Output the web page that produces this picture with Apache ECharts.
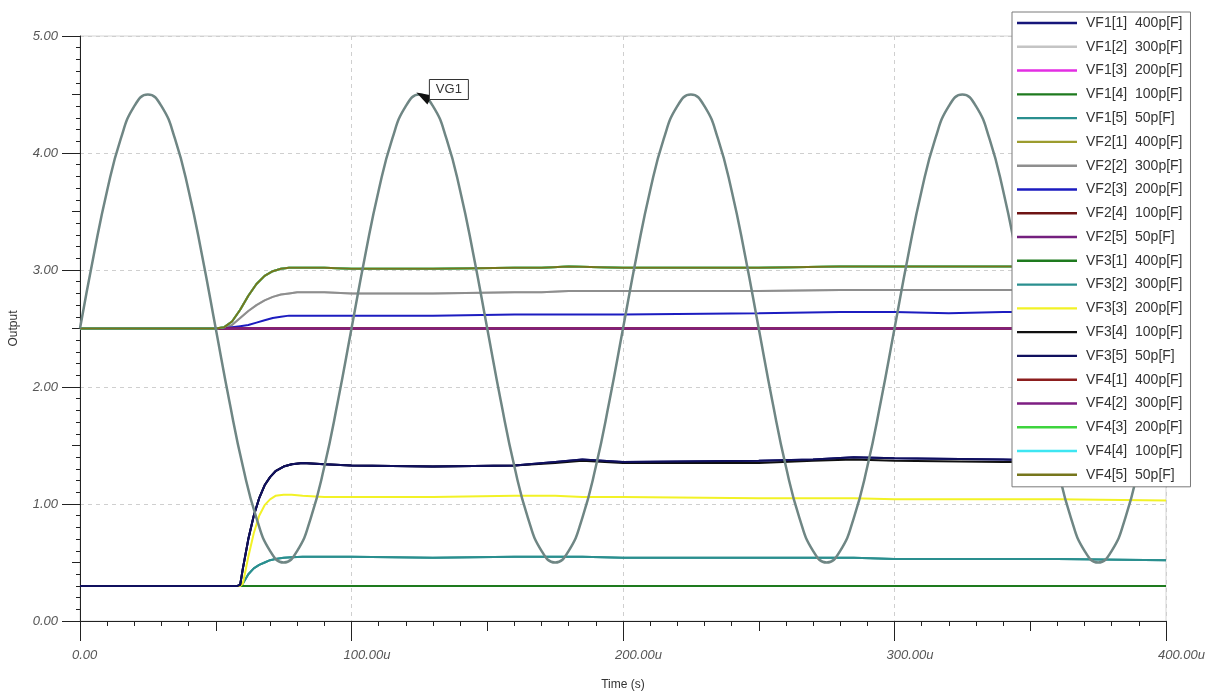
<!DOCTYPE html>
<html>
<head>
<meta charset="utf-8">
<script src="https://cdn.jsdelivr.net/npm/echarts@6/dist/echarts.min.js"></script>
<style>
html,body{margin:0;padding:0;background:#fff;}
#chart{width:1214px;height:696px;}
</style>
</head>
<body>
<div id="chart"></div>
<script>
// ---- Data (time in microseconds, values in volts) ----
const xTickLabels = ['0.00', '100.00u', '200.00u', '300.00u', '400.00u'];
const yTickLabels = ['0.00', '1.00', '2.00', '3.00', '4.00', '5.00'];

// VG1 sine source
const sineT = [0,5,10,15,20,25,30,35,40,45,50,55,60,65,70,75,80,85,90,95,
  100,105,110,115,120,125,130,135,140,145,150,155,160,165,170,175,180,185,190,195,
  200,205,210,215,220,225,230,235,240,245,250,255,260,265,270,275,280,285,290,295,
  300,305,310,315,320,325,330,335,340,345,350,355,360,365,370,375,380,385,390,395,400];
const sineV = [2.5,3.12,3.68,4.12,4.40,4.50,4.40,4.12,3.68,3.12,2.5,1.88,1.32,0.88,0.60,0.50,0.60,0.88,1.32,1.88,
  2.5,3.12,3.68,4.12,4.40,4.50,4.40,4.12,3.68,3.12,2.5,1.88,1.32,0.88,0.60,0.50,0.60,0.88,1.32,1.88,
  2.5,3.12,3.68,4.12,4.40,4.50,4.40,4.12,3.68,3.12,2.5,1.88,1.32,0.88,0.60,0.50,0.60,0.88,1.32,1.88,
  2.5,3.12,3.68,4.12,4.40,4.50,4.40,4.12,3.68,3.12,2.5,1.88,1.32,0.88,0.60,0.50,0.60,0.88,1.32,1.88,2.5];

// Upper group (start at 2.5)
const upperT   = [0, 50, 53, 56, 59, 62, 65, 68, 71, 74, 77, 80, 90, 100, 130, 160, 170, 180, 200, 250, 280, 300, 320, 340, 400];
const upTop    = [2.50,2.50,2.51,2.56,2.66,2.78,2.88,2.95,2.99,3.01,3.02,3.02,3.02,3.01,3.01,3.02,3.02,3.03,3.02,3.02,3.03,3.03,3.03,3.03,3.03];
const upTopB   = [2.50,2.50,2.51,2.56,2.66,2.78,2.88,2.95,2.99,3.01,3.02,3.02,3.02,3.01,3.01,3.02,3.02,3.03,3.02,3.02,3.03,3.03,3.03,3.03,3.03];
const upGray   = [2.50,2.50,2.50,2.53,2.59,2.65,2.70,2.74,2.77,2.79,2.80,2.81,2.81,2.80,2.80,2.81,2.81,2.82,2.82,2.82,2.83,2.83,2.83,2.83,2.83];
const upBlue   = [2.50,2.50,2.50,2.51,2.52,2.53,2.55,2.57,2.59,2.60,2.61,2.61,2.61,2.61,2.61,2.62,2.62,2.62,2.62,2.63,2.64,2.64,2.63,2.64,2.64];
const upFlat   = [2.50,2.50,2.50,2.50,2.50,2.50,2.50,2.50,2.50,2.50,2.50,2.50,2.50,2.50,2.50,2.50,2.50,2.50,2.50,2.50,2.50,2.50,2.50,2.50,2.50];

// Lower group (start at 0.3)
const lowerT   = [0, 58, 59, 60, 62, 64, 66, 68, 70, 72, 75, 78, 82, 90, 100, 130, 160, 175, 185, 200, 250, 270, 285, 300, 340, 360, 400];
const loNavy   = [0.30,0.30,0.31,0.45,0.70,0.90,1.05,1.16,1.23,1.28,1.32,1.34,1.35,1.34,1.33,1.32,1.33,1.36,1.38,1.36,1.37,1.38,1.40,1.39,1.38,1.37,1.37];
const loBlack  = [0.30,0.30,0.31,0.45,0.70,0.90,1.05,1.16,1.23,1.28,1.32,1.34,1.35,1.34,1.33,1.32,1.33,1.35,1.37,1.35,1.35,1.37,1.38,1.37,1.36,1.36,1.36];
const loYellow = [0.30,0.30,0.30,0.32,0.55,0.75,0.90,0.99,1.04,1.07,1.08,1.08,1.07,1.06,1.06,1.06,1.07,1.07,1.06,1.06,1.05,1.05,1.05,1.04,1.04,1.04,1.03];
const loTeal   = [0.30,0.30,0.30,0.32,0.40,0.45,0.48,0.50,0.52,0.53,0.54,0.545,0.55,0.55,0.55,0.54,0.55,0.55,0.55,0.54,0.54,0.54,0.54,0.53,0.53,0.53,0.52];
const loFlat   = [0.30,0.30,0.30,0.30,0.30,0.30,0.30,0.30,0.30,0.30,0.30,0.30,0.30,0.30,0.30,0.30,0.30,0.30,0.30,0.30,0.30,0.30,0.30,0.30,0.30,0.30,0.30];

// Legend series: name, colour, which curve
const seriesNames  = ['VF1[1]  400p[F]','VF1[2]  300p[F]','VF1[3]  200p[F]','VF1[4]  100p[F]','VF1[5]  50p[F]',
                      'VF2[1]  400p[F]','VF2[2]  300p[F]','VF2[3]  200p[F]','VF2[4]  100p[F]','VF2[5]  50p[F]',
                      'VF3[1]  400p[F]','VF3[2]  300p[F]','VF3[3]  200p[F]','VF3[4]  100p[F]','VF3[5]  50p[F]',
                      'VF4[1]  400p[F]','VF4[2]  300p[F]','VF4[3]  200p[F]','VF4[4]  100p[F]','VF4[5]  50p[F]'];
const seriesColors = ['#16167a','#c4c4c4','#e32ee3','#1e7a1e','#2a8f8f',
                      '#9c9c2e','#8e8e8e','#1c1cc0','#6e1414','#74207e',
                      '#1e7a1e','#2a8f8f','#f2f226','#101010','#10105e',
                      '#8c1e1e','#7e1e82','#3ed43e','#3ee6f2','#76761c'];
const seriesCurve  = ['loNavy','upGray','upFlat','loFlat','loTeal',
                      'upTop','upGray','upBlue','upFlat','upFlat',
                      'loFlat','loTeal','loYellow','loBlack','loNavy',
                      'upFlat','upFlat','upTopB','upTopB','upTop'];

const curves = {
  upTop:   [upperT, upTop],  upTopB: [upperT, upTopB], upGray: [upperT, upGray],
  upBlue:  [upperT, upBlue], upFlat: [upperT, upFlat],
  loNavy:  [lowerT, loNavy], loBlack: [lowerT, loBlack], loYellow: [lowerT, loYellow],
  loTeal:  [lowerT, loTeal], loFlat: [lowerT, loFlat]
};
const pairs = (t, v) => t.map((x, i) => [x, v[i]]);

const chart = echarts.init(document.getElementById('chart'), null, {renderer: 'canvas'});

const series = seriesNames.map((name, i) => {
  const c = curves[seriesCurve[i]];
  return {
    name: name, type: 'line', xAxisIndex: 0, yAxisIndex: 0,
    data: pairs(c[0], c[1]), symbol: 'none', smooth: false,
    lineStyle: {width: 2, color: seriesColors[i]}, itemStyle: {color: seriesColors[i]},
    emphasis: {disabled: true}, z: 2
  };
});
series.push({
  name: 'VG1', type: 'line', xAxisIndex: 0, yAxisIndex: 0,
  data: pairs(sineT, sineV), symbol: 'none', smooth: true,
  lineStyle: {width: 2.5, color: '#6f8684'}, itemStyle: {color: '#6f8684'},
  emphasis: {disabled: true}, z: 3
});

const axisLabelFont = {fontFamily: 'Liberation Sans', fontStyle: 'italic', fontSize: 13, color: '#555'};
// thin line-shaped legend icon (tiny corner marks keep the bounding box at full item size)
const legendLineIcon = 'path://M0,0 L0.01,0 L0,0.01 Z M0,5.8 L60,5.8 L60,8.2 L0,8.2 Z M60,14 L59.99,14 L60,13.99 Z';

chart.setOption({
  animation: false,
  backgroundColor: '#fff',
  grid: {left: 80, right: 48, top: 36, bottom: 68, show: true, borderColor: '#d4d4d4', borderWidth: 1, containLabel: false},
  legend: {
    data: seriesNames, orient: 'vertical', left: 1012, top: 12,
    icon: legendLineIcon,
    itemWidth: 60, itemHeight: 14, itemGap: 9.78,
    padding: [4, 8, 5, 5],
    backgroundColor: '#fff', borderColor: '#7a7a7a', borderWidth: 1, borderRadius: 0,
    selectedMode: false,
    textStyle: {fontFamily: 'Liberation Sans', fontSize: 14, color: '#333', padding: [0, 0, 0, 4]}
  },
  xAxis: [{
    type: 'value', min: 0, max: 400, interval: 100,
    name: 'Time (s)', nameLocation: 'middle', nameGap: 58,
    nameTextStyle: {fontFamily: 'Liberation Sans', fontSize: 12, color: '#333'},
    axisLine: {show: true, onZero: false, lineStyle: {color: '#222', width: 1}},
    axisTick: {show: true, inside: false, length: 20, lineStyle: {color: '#222'}},
    minorTick: {show: true, splitNumber: 10, length: 5, lineStyle: {color: '#222'}},
    splitLine: {show: true, lineStyle: {color: '#cfcfcf', type: [4, 4]}},
    axisLabel: Object.assign({
      margin: 28, align: 'left', padding: [0, 0, 0, -8],
      formatter: v => xTickLabels[Math.round(v / 100)]
    }, axisLabelFont)
  }, {
    type: 'value', min: 0, max: 400, interval: 50, gridIndex: 0, position: 'bottom',
    axisLine: {show: false, onZero: false}, axisTick: {show: true, length: 10, lineStyle: {color: '#222'}},
    axisLabel: {show: false}, splitLine: {show: false}
  }],
  yAxis: [{
    type: 'value', min: 0, max: 5, interval: 1,
    name: 'Output', nameLocation: 'middle', nameGap: 60, nameRotate: 90,
    nameTextStyle: {fontFamily: 'Liberation Sans', fontSize: 12, color: '#333'},
    axisLine: {show: true, onZero: false, lineStyle: {color: '#222', width: 1}},
    axisTick: {show: true, inside: false, length: 18, lineStyle: {color: '#222'}},
    minorTick: {show: true, splitNumber: 10, length: 4, lineStyle: {color: '#222'}},
    splitLine: {show: true, lineStyle: {color: '#cfcfcf', type: [4, 4]}},
    axisLabel: Object.assign({
      margin: 22, formatter: v => yTickLabels[Math.round(v)]
    }, axisLabelFont)
  }, {
    type: 'value', min: 0, max: 5, interval: 0.5, gridIndex: 0, position: 'left',
    axisLine: {show: false, onZero: false}, axisTick: {show: true, length: 8, lineStyle: {color: '#222'}},
    axisLabel: {show: false}, splitLine: {show: false}
  }],
  series: series
});

// VG1 annotation anchored at the second sine peak via the chart's own scales
const p = chart.convertToPixel({xAxisIndex: 0, yAxisIndex: 0}, [125, 4.5]);
chart.setOption({
  graphic: [
    {type: 'polygon', z: 100, shape: {points: [[p[0] - 3, p[1] - 2], [p[0] + 13, p[1] + 1], [p[0] + 8, p[1] + 10]]},
     style: {fill: '#111'}},
    {type: 'rect', z: 100, shape: {x: p[0] + 10, y: p[1] - 15, width: 39, height: 20},
     style: {fill: '#fff', stroke: '#333', lineWidth: 1}},
    {type: 'text', z: 101, x: p[0] + 29.5, y: p[1] - 5,
     style: {text: 'VG1', fontFamily: 'Liberation Sans', fontSize: 13, fill: '#333', align: 'center', verticalAlign: 'middle'}}
  ]
});
</script>
</body>
</html>
